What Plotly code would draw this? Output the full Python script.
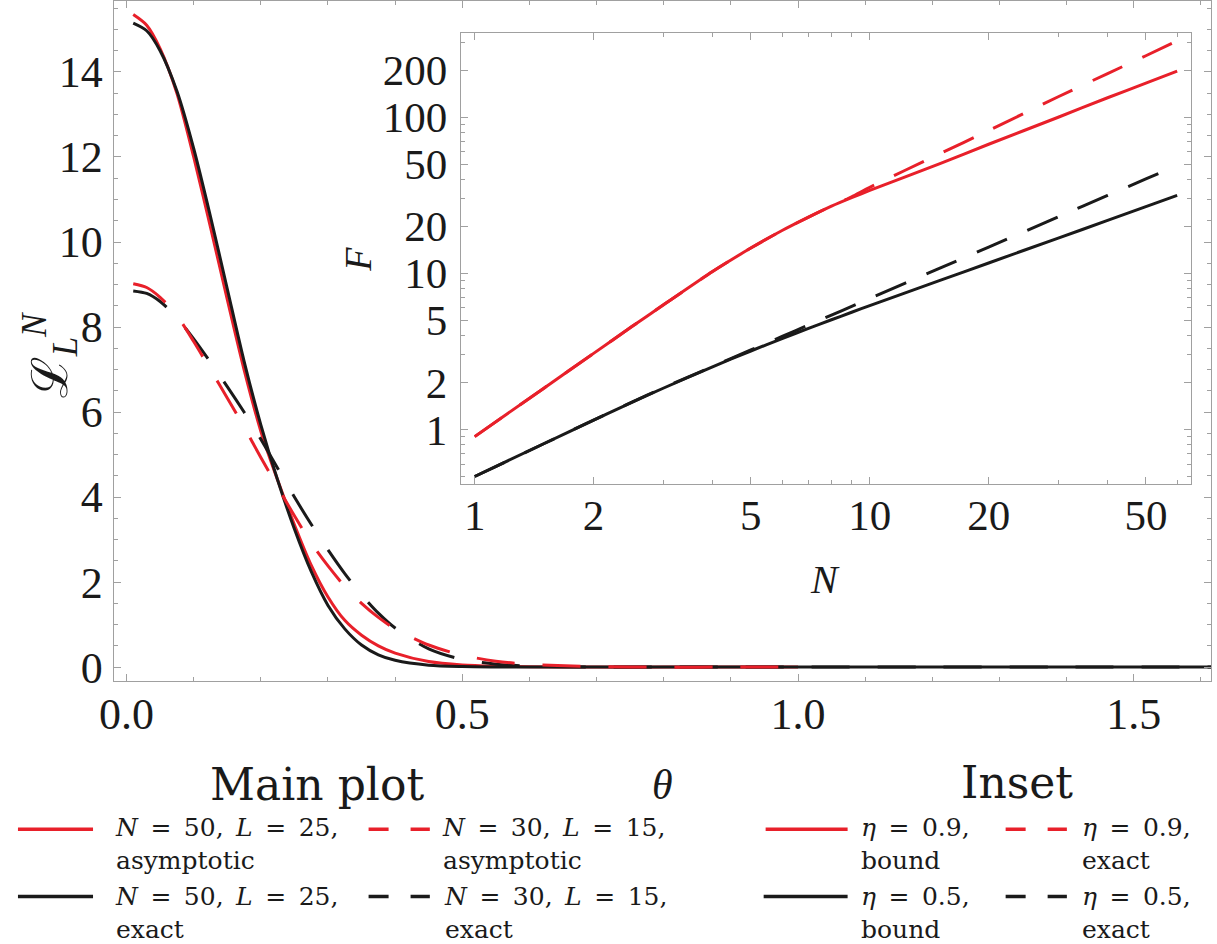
import plotly.graph_objects as go

# ---------------- data: main plot ----------------
theta_asym = [0.01, 0.03, 0.05, 0.075, 0.1, 0.125, 0.15, 0.175, 0.2, 0.225, 0.25, 0.275,
              0.3, 0.325, 0.35, 0.375, 0.4, 0.45, 0.5, 0.55, 0.6, 0.7, 0.8, 0.9, 1.0]
theta_exact = theta_asym + [1.2, 1.4, 1.615]

L_n50_asym = [15.35, 15.1, 14.55, 13.5, 12.0, 10.35, 8.65, 7.0, 5.55, 4.4, 3.35, 2.4,
              1.65, 1.1, 0.75, 0.5, 0.33, 0.13, 0.05, 0.02, 0.008, 0.0, 0.0, 0.0, 0.0]
L_n50_exact = [15.15, 14.97, 14.5, 13.55, 12.2, 10.6, 8.9, 7.2, 5.7, 4.4, 3.25, 2.25,
               1.45, 0.9, 0.52, 0.29, 0.16, 0.045, 0.012, 0.003, 0.0, 0.0, 0.0, 0.0, 0.0,
               0.0, 0.0, 0.0]
L_n30_asym = [9.02, 8.93, 8.7, 8.27, 7.66, 7.0, 6.33, 5.65, 4.93, 4.24, 3.56, 2.92,
              2.38, 1.9, 1.5, 1.17, 0.9, 0.52, 0.28, 0.14, 0.065, 0.012, 0.0, 0.0, 0.0]
L_n30_exact = [8.85, 8.79, 8.6, 8.22, 7.72, 7.17, 6.6, 6.0, 5.36, 4.68, 4.0, 3.36,
               2.76, 2.2, 1.7, 1.27, 0.92, 0.43, 0.18, 0.07, 0.025, 0.003, 0.0, 0.0, 0.0,
               0.0, 0.0, 0.0]

# ---------------- data: inset ----------------
N_vals = [1, 1.5, 2, 2.5, 3, 4, 5, 6, 7, 8, 9, 10, 15, 20, 30, 40, 50, 60]
F_eta09_bound = [0.90, 1.845, 3.07, 4.56, 6.26, 10.26, 14.5, 18.8, 22.9, 26.9, 30.5, 33.9,
                 50.2, 67.0, 99.8, 133, 165, 197]
F_eta09_exact = [0.90, 1.845, 3.07, 4.56, 6.26, 10.26, 14.5, 18.8, 22.9, 26.9, 30.9, 35.5,
                 58, 82, 135, 190, 247, 308]
F_eta05_bound = [0.50, 0.813, 1.149, 1.492, 1.836, 2.52, 3.18, 3.82, 4.44, 5.04, 5.63, 6.21,
                 8.97, 11.64, 16.8, 21.8, 26.7, 31.5]
F_eta05_exact = [0.50, 0.813, 1.149, 1.495, 1.845, 2.53, 3.23, 3.94, 4.67, 5.40, 6.14, 6.90,
                 10.75, 14.7, 23.0, 31.5, 40.2, 49.0]

main_xticks = [0.0, 0.5, 1.0, 1.5]
main_xticktext = ["0.0", "0.5", "1.0", "1.5"]
main_yticks = [0, 2, 4, 6, 8, 10, 12, 14]
inset_xticks = [1, 2, 5, 10, 20, 50]
inset_xminor = [3, 4, 6, 7, 8, 9, 30, 40, 60]
inset_yticks = [1, 2, 5, 10, 20, 50, 100, 200]
inset_yminor = [0.5, 0.6, 0.7, 0.8, 0.9, 3, 4, 6, 7, 8, 9, 30, 40, 60, 70, 80, 90, 300]

RED = "#E8202A"
BLK = "#1A1A1A"
FRAME = "#A0A0A0"
TIMES = "Liberation Serif"
CM = "DejaVu Serif"

W, H = 1217, 944


def px(x):
    return x / W


def py(y):
    return 1 - y / H


fig = go.Figure()

MAIN_DASH = "38px,28px"
INSET_DASH = "33px,22px"

fig.add_trace(go.Scatter(x=theta_asym, y=L_n50_asym, mode="lines",
                         line=dict(color=RED, width=3, shape="spline", smoothing=0.8),
                         name="N = 50, L = 25, asymptotic", showlegend=False))
fig.add_trace(go.Scatter(x=theta_exact, y=L_n50_exact, mode="lines",
                         line=dict(color=BLK, width=3, shape="spline", smoothing=0.8),
                         name="N = 50, L = 25, exact", showlegend=False))
fig.add_trace(go.Scatter(x=theta_exact, y=L_n30_exact, mode="lines",
                         line=dict(color=BLK, width=3, dash=MAIN_DASH, shape="spline", smoothing=0.8),
                         name="N = 30, L = 15, exact", showlegend=False))
fig.add_trace(go.Scatter(x=theta_asym, y=L_n30_asym, mode="lines",
                         line=dict(color=RED, width=3, dash=MAIN_DASH, shape="spline", smoothing=0.8),
                         name="N = 30, L = 15, asymptotic", showlegend=False))

# inset traces
fig.add_trace(go.Scatter(x=N_vals, y=F_eta05_bound, mode="lines", xaxis="x2", yaxis="y2",
                         line=dict(color=BLK, width=3, shape="spline", smoothing=0.6),
                         name="eta=0.5 bound", showlegend=False))
fig.add_trace(go.Scatter(x=N_vals, y=F_eta05_exact, mode="lines", xaxis="x2", yaxis="y2",
                         line=dict(color=BLK, width=3, dash=INSET_DASH, shape="spline", smoothing=0.6),
                         name="eta=0.5 exact", showlegend=False))
fig.add_trace(go.Scatter(x=N_vals, y=F_eta09_exact, mode="lines", xaxis="x2", yaxis="y2",
                         line=dict(color=RED, width=3, dash=INSET_DASH, shape="spline", smoothing=0.6),
                         name="eta=0.9 exact", showlegend=False))
fig.add_trace(go.Scatter(x=N_vals, y=F_eta09_bound, mode="lines", xaxis="x2", yaxis="y2",
                         line=dict(color=RED, width=3, shape="spline", smoothing=0.6),
                         name="eta=0.9 bound", showlegend=False))

axis_common = dict(showline=True, linecolor=FRAME, linewidth=1.2, mirror="ticks",
                   ticks="inside", tickcolor=FRAME, tickwidth=1, showgrid=False,
                   zeroline=False, tickfont=dict(family=TIMES, size=44, color=BLK))

fig.update_layout(
    width=W, height=H, autosize=False,
    margin=dict(l=0, r=0, t=0, b=0),
    paper_bgcolor="white", plot_bgcolor="white",
    showlegend=False,
    xaxis=dict(domain=[px(100), px(1211)], range=[-0.019, 1.615],
               tickmode="array", tickvals=main_xticks, ticktext=main_xticktext,
               ticklen=7, ticklabelstandoff=-6,
               minor=dict(ticks="inside", ticklen=4, tickcolor=FRAME, dtick=0.1, tick0=0),
               anchor="y", **axis_common),
    yaxis=dict(domain=[py(689), py(1)], range=[-0.326, 15.67],
               tickmode="array", tickvals=main_yticks,
               ticklen=7, ticklabelstandoff=1,
               minor=dict(ticks="inside", ticklen=4, tickcolor=FRAME, dtick=0.5, tick0=0),
               anchor="x", **axis_common),
    xaxis2=dict(domain=[px(451.5), px(1191)], type="log", range=[-0.0348, 1.814],
                tickmode="array", tickvals=inset_xticks,
                ticklen=7, ticklabelstandoff=-7,
                minor=dict(ticks="inside", ticklen=4, tickcolor=FRAME, tickvals=inset_xminor),
                anchor="y2", **{**axis_common, "tickfont": dict(family=TIMES, size=43, color=BLK)}),
    yaxis2=dict(domain=[py(490), py(33.3)], type="log", range=[-0.351, 2.539],
                tickmode="array", tickvals=inset_yticks,
                ticklen=7, ticklabelstandoff=4,
                minor=dict(ticks="inside", ticklen=4, tickcolor=FRAME, tickvals=inset_yminor),
                anchor="x2", **{**axis_common, "tickfont": dict(family=TIMES, size=43, color=BLK)}),
)

annotations = []


def ann(text, x, y, size, family=TIMES, xanchor="center", yanchor="middle", angle=0):
    annotations.append(dict(text=text, x=px(x), y=py(y), xref="paper", yref="paper",
                            xanchor=xanchor, yanchor=yanchor, showarrow=False, align="left",
                            textangle=angle, font=dict(family=family, size=size, color=BLK)))


# axis titles
ann("ℒ<sub><i>L</i></sub><sup><i>N</i></sup>", 36, 360, 50, angle=-90)
ann("<i>θ</i>", 656, 794, 42)
ann("<i>F</i>", 347, 262, 38, angle=-90)
ann("<i>N</i>", 820, 586, 40)

# legend headings
ann("Main plot", 306, 794, 44, family=CM)
ann("Inset", 1014, 792, 44, family=CM)

LS = 25
SP = "\u2002"
legend_entries = [
    (f"<i>N</i>{SP}={SP}50,{SP}<i>L</i>{SP}={SP}25,", "asymptotic", 99, 0),
    (f"<i>N</i>{SP}={SP}30,{SP}<i>L</i>{SP}={SP}15,", "asymptotic", 430, 0),
    (f"<i>η</i>{SP}={SP}0.9,", "bound", 855, 0),
    (f"<i>η</i>{SP}={SP}0.9,", "exact", 1078, 0),
    (f"<i>N</i>{SP}={SP}50,{SP}<i>L</i>{SP}={SP}25,", "exact", 99, 1),
    (f"<i>N</i>{SP}={SP}30,{SP}<i>L</i>{SP}={SP}15,", "exact", 432, 1),
    (f"<i>η</i>{SP}={SP}0.5,", "bound", 855, 1),
    (f"<i>η</i>{SP}={SP}0.5,", "exact", 1078, 1),
]
row_center = [854, 924]
for t1, t2, x, r in legend_entries:
    ann(t1 + "<br>" + t2, x, row_center[r], LS, family=CM, xanchor="left")

fig.update_layout(annotations=annotations)

# legend line samples
samples = [
    (3, 79, 839, RED, "solid"),
    (358, 420, 839, RED, "20px,22px"),
    (760, 843, 839, RED, "solid"),
    (1003, 1065, 839, RED, "20px,22px"),
    (3, 79, 907, BLK, "solid"),
    (358, 420, 907, BLK, "20px,22px"),
    (758, 843, 907, BLK, "solid"),
    (1003, 1065, 907, BLK, "20px,22px"),
]
for x0, x1, y, c, d in samples:
    fig.add_shape(type="line", xref="paper", yref="paper",
                  x0=px(x0), x1=px(x1), y0=py(y), y1=py(y),
                  line=dict(color=c, width=3.5, dash=d))

fig.write_html("out.html")
